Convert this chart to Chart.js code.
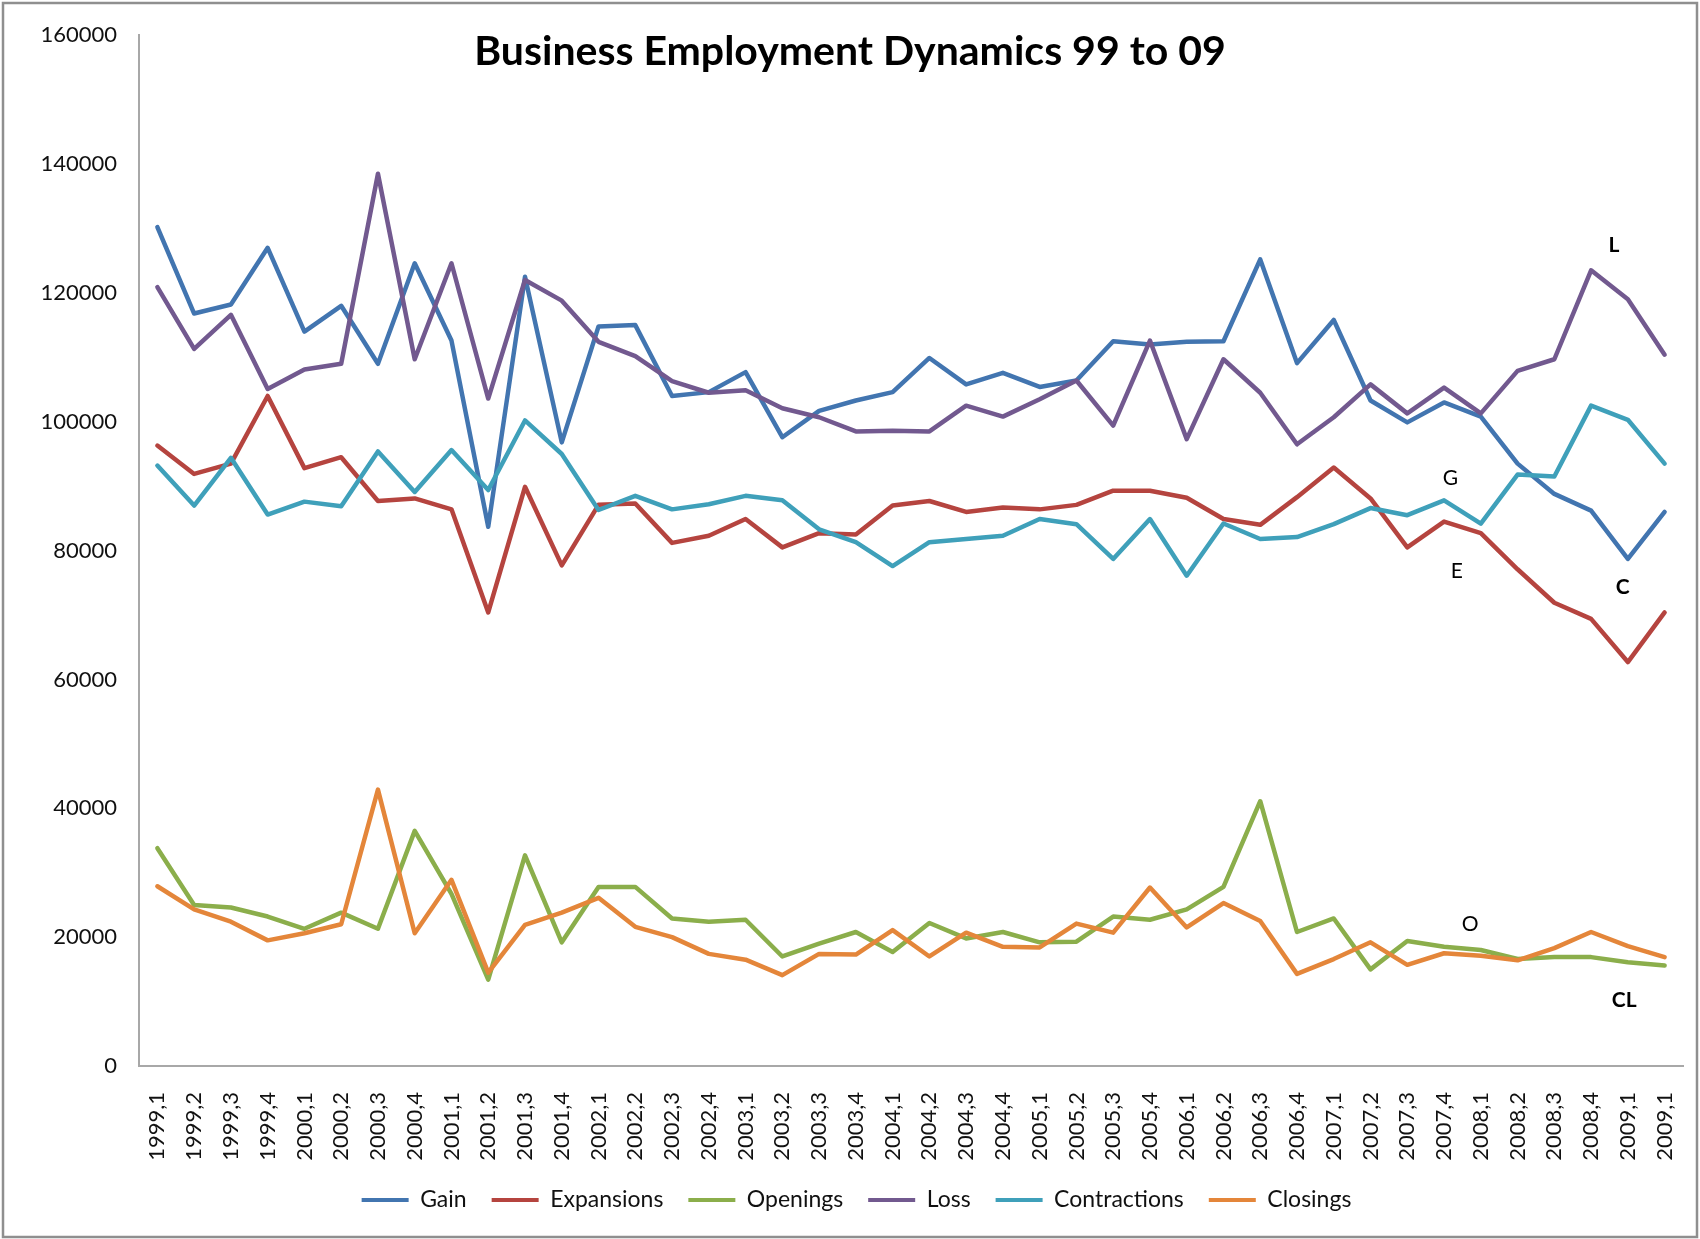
<!DOCTYPE html>
<html>
<head>
<meta charset="utf-8">
<script src="https://cdn.jsdelivr.net/npm/chart.js@4.4.1/dist/chart.umd.min.js"></script>
<style>
html,body{margin:0;padding:0;background:#fff;}
canvas{display:block;}
</style>
</head>
<body>
<canvas id="c" width="1700" height="1239"></canvas>
<script>
const categories = ["1999,1","1999,2","1999,3","1999,4","2000,1","2000,2","2000,3","2000,4","2001,1","2001,2","2001,3","2001,4","2002,1","2002,2","2002,3","2002,4","2003,1","2003,2","2003,3","2003,4","2004,1","2004,2","2004,3","2004,4","2005,1","2005,2","2005,3","2005,4","2006,1","2006,2","2006,3","2006,4","2007,1","2007,2","2007,3","2007,4","2008,1","2008,2","2008,3","2008,4","2009,1","2009,1"];

const gain = [130200,116800,118200,127000,114000,118000,109000,124600,112600,83700,122500,96800,114800,115000,104000,104600,107700,97600,101700,103300,104600,109900,105800,107600,105400,106400,112500,112000,112400,112500,125200,109100,115800,103300,99900,103000,100800,93500,88800,86200,78700,86000];
const expansions = [96300,91900,93500,104000,92800,94500,87700,88100,86400,70400,89900,77700,87100,87300,81200,82300,84900,80500,82700,82500,87000,87700,86000,86700,86400,87100,89300,89300,88200,84900,84000,88300,92900,88100,80500,84500,82700,77100,71900,69400,62700,70400];
const openings = [33800,25000,24600,23200,21300,23800,21300,36500,26700,13400,32700,19200,27800,27800,22900,22400,22700,17000,19000,20800,17700,22200,19800,20800,19200,19300,23200,22700,24300,27800,41100,20800,22900,15000,19400,18500,18000,16600,16900,16900,16100,15600];
const loss = [120900,111300,116600,105100,108100,109000,138500,109700,124600,103600,122000,118800,112400,110200,106300,104500,104900,102100,100700,98500,98600,98500,102500,100800,103500,106400,99400,112600,97300,109700,104500,96500,100700,105800,101300,105300,101300,107900,109700,123500,119000,110400];
const contractions = [93200,87000,94400,85600,87600,86900,95400,89100,95600,89400,100200,95000,86300,88500,86400,87200,88500,87800,83300,81300,77600,81300,81800,82300,84900,84100,78700,84900,76100,84200,81800,82100,84100,86600,85500,87800,84200,91800,91500,102500,100300,93500];
const closings = [27900,24300,22400,19500,20600,22000,42900,20600,28900,14500,21900,23800,26100,21600,20000,17400,16500,14100,17400,17300,21100,17000,20700,18500,18400,22100,20700,27700,21500,25300,22500,14300,16600,19200,15700,17500,17100,16400,18300,20800,18600,16900];

const seriesNames = ["Gain","Expansions","Openings","Loss","Contractions","Closings"];
const yTickMin = 0, yTickMax = 160000, yTickStep = 20000;
const chartTitle = "Business Employment Dynamics 99 to 09";

// in-chart letter labels, anchored in data units (category index, value)
const noteTexts = ["L","G","E","C","O","CL"];
const noteIndex = [39.62,35.17,35.35,39.86,35.71,39.9];
const noteValue = [126300,90200,75700,73300,20900,9200];
const noteBold = [true,false,false,true,false,true];

const colors = ["#4275B0","#B5443F","#8BAE4B","#72598F","#3FA0BA","#E4863A"];
const FONT = 'Lato, "Open Sans", sans-serif';
const seriesData = [gain, expansions, openings, loss, contractions, closings];

const frame = {
  id: 'frame',
  beforeDraw(chart) {
    const ctx = chart.ctx;
    ctx.save();
    ctx.fillStyle = '#fff';
    ctx.fillRect(0, 0, chart.width, chart.height);
    ctx.strokeStyle = '#8f8f8f';
    ctx.lineWidth = 2.5;
    ctx.strokeRect(3, 3, chart.width - 6, chart.height - 5);
    ctx.restore();
  }
};

const overlay = {
  id: 'overlay',
  afterDraw(chart) {
    const ctx = chart.ctx;
    const xs = chart.scales.x, ys = chart.scales.y;
    ctx.save();
    ctx.fillStyle = '#000';
    ctx.textAlign = 'center';
    ctx.textBaseline = 'alphabetic';
    ctx.font = 'bold 41px ' + FONT;
    ctx.fillText(chartTitle, chart.width / 2, 65);
    for (let i = 0; i < noteTexts.length; i++) {
      ctx.font = (noteBold[i] ? 'bold ' : '') + '21px ' + FONT;
      ctx.fillText(noteTexts[i], xs.getPixelForValue(noteIndex[i]), ys.getPixelForValue(noteValue[i]));
    }
    ctx.restore();
  }
};

const PAD_BOTTOM = 17.5;
const AXIS_BOTTOM = 1066;

new Chart(document.getElementById('c'), {
  type: 'line',
  data: {
    labels: categories,
    datasets: seriesNames.map((name, i) => ({
      label: name,
      data: seriesData[i],
      borderColor: colors[i],
      backgroundColor: colors[i],
      borderWidth: 4.5,
      pointRadius: 0,
      pointHoverRadius: 0,
      tension: 0,
      fill: false,
      borderJoinStyle: 'round',
      borderCapStyle: 'round',
      order: seriesNames.length - i
    }))
  },
  options: {
    responsive: false,
    animation: false,
    events: [],
    layout: { padding: { left: 30, right: 17, top: 29, bottom: PAD_BOTTOM } },
    scales: {
      x: {
        type: 'category',
        offset: true,
        grid: { display: false, drawTicks: false, offset: true },
        border: { display: true, color: '#a8a8a8', width: 2 },
        ticks: {
          autoSkip: false, minRotation: 90, maxRotation: 90, padding: 26,
          color: '#111', font: { family: FONT, size: 22 }
        },
        afterFit(s) {
          s.paddingLeft = 0;
          s.paddingRight = 0;
          s.height = s.chart.height - PAD_BOTTOM - s.chart.legend.height - AXIS_BOTTOM;
        }
      },
      y: {
        min: yTickMin, max: yTickMax,
        grid: { display: false, drawTicks: false },
        border: { display: true, color: '#a8a8a8', width: 2 },
        ticks: {
          stepSize: yTickStep, padding: 22, color: '#111',
          font: { family: FONT, size: 22 },
          callback: v => String(v)
        },
        afterFit(s) { s.width = 109; }
      }
    },
    plugins: {
      title: { display: false },
      tooltip: { enabled: false },
      legend: {
        display: true,
        position: 'bottom',
        reverse: true,
        labels: {
          boxWidth: 47, boxHeight: 4, padding: 25, color: '#111',
          font: { family: FONT, size: 23 },
          generateLabels(chart) {
            const items = Chart.defaults.plugins.legend.labels.generateLabels(chart);
            items.forEach(it => { it.lineWidth = 0; it.fillStyle = it.strokeStyle; });
            return items;
          }
        }
      }
    }
  },
  plugins: [frame, overlay]
});
</script>
</body>
</html>
